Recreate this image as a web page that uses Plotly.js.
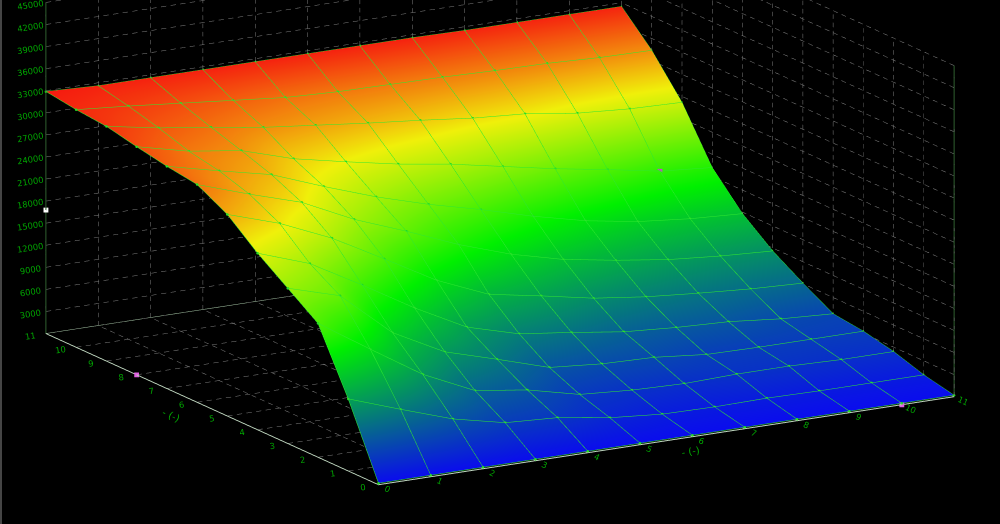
<!DOCTYPE html>
<html><head><meta charset="utf-8"><script src="https://cdn.plot.ly/plotly-3.0.1.min.js"></script>
<style>html,body{margin:0;padding:0;background:#000}#p{width:1000px;height:524px}</style></head>
<body><div id="p"></div>
<script>
const xVals=[0,1,2,3,4,5,6,7,8,9,10,11];
const yVals=[0,1,2,3,4,5,6,7,8,9,10,11];
const zTicks=[3000,6000,9000,12000,15000,18000,21000,24000,27000,30000,33000,36000,39000,42000,45000];
const row0=[200,200,200,200,200,200,200,200,200,200,200,200];
const row1=[9800,7300,4900,3300,2900,1800,1200,1100,1200,1100,1100,1100];
const row2=[18200,13600,9100,5800,4800,3100,2600,2400,2600,2600,2400,2400];
const row3=[21100,19000,12900,9200,7100,4900,4300,4100,3400,3300,3300,3300];
const row4=[24000,21500,17500,13300,9600,7600,6700,5700,5200,4900,4200,3800];
const row5=[27400,25100,22000,18100,14100,11100,9800,8400,7500,6900,6400,6100];
const row6=[29600,27200,25000,21600,18900,16000,13600,11800,10600,9600,9000,8600];
const row7=[30200,28500,26900,24200,21700,19600,17800,15800,14100,12900,12200,11800];
const row8=[31000,29300,28300,26100,24600,23200,22100,20700,19300,18100,16800,16200];
const row9=[31900,30600,29600,28500,27700,26900,26200,25400,24900,23900,23400,23200];
const row10=[32300,31700,31000,30300,29600,29300,29200,29100,28900,28800,28500,28400];
const row11=[32900,32600,32600,32600,32600,32600,32600,32600,32500,32500,32500,32500];
const zRows=[row0,row1,row2,row3,row4,row5,row6,row7,row8,row9,row10,row11];
const markX=[0,10,10,0], markY=[8,0,8,11], markZ=[0,0,16800,16800];
const markC=['#e060e0','#e060e0','#d040d0','#ffffff'];
const zTop=45000, xEnd=11, yEnd=11;

const lbl='rgb(0,165,0)';
const axis=(extra)=>Object.assign({
  showbackground:true,backgroundcolor:'#000',showgrid:false,
  showline:true,linewidth:2,zeroline:false,showspikes:false,
  tickfont:{family:'DejaVu Sans',size:10,color:lbl},ticks:'',
},extra);
const vx=[],vy=[],vz=[];
zRows.forEach((r,j)=>r.forEach((v,i)=>{vx.push(xVals[i]);vy.push(yVals[j]);vz.push(v);}));

// dashed wall and floor grid, built from the tick arrays (short on-off pieces)
const gx=[],gy=[],gz=[];
const dashed=(a,b,n)=>{
  for(let k=0;k<n;k++){
    const t0=k/n,t1=(k+0.55)/n;
    gx.push(a[0]+(b[0]-a[0])*t0,a[0]+(b[0]-a[0])*t1,null);
    gy.push(a[1]+(b[1]-a[1])*t0,a[1]+(b[1]-a[1])*t1,null);
    gz.push(a[2]+(b[2]-a[2])*t0,a[2]+(b[2]-a[2])*t1,null);
  }
};
xVals.forEach(x=>{dashed([x,yEnd,0],[x,yEnd,zTop],40);dashed([x,0,0],[x,yEnd,0],40);});
yVals.forEach(y=>{dashed([xEnd,y,0],[xEnd,y,zTop],40);dashed([0,y,0],[xEnd,y,0],60);});
zTicks.forEach(z=>{dashed([0,yEnd,z],[xEnd,yEnd,z],60);dashed([xEnd,0,z],[xEnd,yEnd,z],40);});

// bright mesh lines drawn along the surface rows and columns
const mx=[],my=[],mz=[];
zRows.forEach((r,j)=>{r.forEach((v,i)=>{mx.push(xVals[i]);my.push(yVals[j]);mz.push(v);});mx.push(null);my.push(null);mz.push(null);});
xVals.forEach((x,i)=>{zRows.forEach((r,j)=>{mx.push(x);my.push(yVals[j]);mz.push(r[i]);});mx.push(null);my.push(null);mz.push(null);});

const data=[{
  type:'scatter3d',mode:'lines',x:gx,y:gy,z:gz,hoverinfo:'skip',connectgaps:false,
  line:{color:'#808080',width:1}
},{
  type:'scatter3d',mode:'lines',x:[0,0,null,xEnd,xEnd],y:[yEnd,yEnd,null,0,0],z:[0,zTop,null,0,zTop],hoverinfo:'skip',
  line:{color:'#2f5f2f',width:2}
},{
  type:'scatter3d',mode:'lines',x:[0,xEnd],y:[yEnd,yEnd],z:[0,0],hoverinfo:'skip',
  line:{color:'#a8c8a8',width:1}
},{
  type:'surface',x:xVals,y:yVals,z:zRows,cmin:0,cmax:33000,showscale:false,hoverinfo:'skip',
  colorscale:[[0,'rgb(10,10,240)'],[0.45,'rgb(0,240,0)'],[0.75,'rgb(240,240,10)'],[1,'rgb(245,25,15)']],
  lighting:{ambient:1,diffuse:0,specular:0,roughness:1,fresnel:0},
  contours:{
    x:{show:true,start:0,end:11,size:1,color:'#2fe82f',width:2,highlight:false},
    y:{show:true,start:0,end:11,size:1,color:'#2fe82f',width:2,highlight:false},
    z:{show:false,highlight:false}
  }
},{
  type:'scatter3d',mode:'lines',x:mx,y:my,z:mz,hoverinfo:'skip',connectgaps:false,
  line:{color:'#2fe82f',width:1}
},{
  type:'scatter3d',mode:'markers',x:vx,y:vy,z:vz,hoverinfo:'skip',
  marker:{size:1.5,color:'#22d822',line:{width:0}}
},{
  type:'scatter3d',mode:'markers',x:markX,y:markY,z:markZ,hoverinfo:'skip',
  marker:{size:2.5,color:markC,symbol:'square',line:{width:0}}
}];
const layout={
  width:1000,height:524,margin:{l:0,r:0,t:0,b:0},paper_bgcolor:'#000',showlegend:false,
  scene:{
    domain:{x:[0,1],y:[0,1]},bgcolor:'#000',
    aspectmode:'manual',aspectratio:{x:2.54,y:2.53,z:1.31},
    camera:{eye:{x:-1.45,y:-2.5,z:0.543},center:{x:0,y:0,z:-0.247},up:{x:0,y:0,z:1},projection:{type:'orthographic'}},
    xaxis:axis({range:[0,11],tickvals:xVals,title:{text:'- (-)',font:{family:'DejaVu Sans',size:10,color:lbl}},linecolor:'#c0d8c0'}),
    yaxis:axis({range:[0,11],tickvals:yVals,title:{text:'- (-)',font:{family:'DejaVu Sans',size:10,color:lbl}},linecolor:'#c0d8c0'}),
    zaxis:axis({range:[0,45000],tickvals:zTicks,ticktext:zTicks.map(String),title:{text:''},linecolor:'#2f5f2f'})
  },
  shapes:[{type:'line',xref:'paper',yref:'paper',x0:0.001,x1:0.001,y0:0,y1:1,line:{color:'#8a8a8a',width:1}}]
};
Plotly.newPlot('p',data,layout,{displayModeBar:false});
</script></body></html>
